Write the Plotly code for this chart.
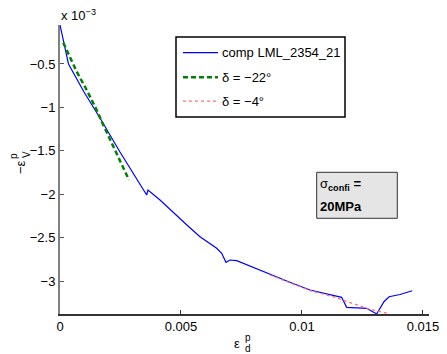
import plotly.graph_objects as go

# plastic deviatoric strain (x) and -volumetric strain in units of 1e-3 (y)
comp_x = [0.0, 0.000124, 0.000351, 0.000992, 0.001653, 0.002479, 0.003582, 0.003636,
          0.004132, 0.005289, 0.005785, 0.006475, 0.006682, 0.006859, 0.007025, 0.007302,
          0.008541, 0.009421, 0.010331, 0.010744, 0.01164, 0.011847, 0.012673, 0.013087,
          0.013388, 0.0136, 0.01405, 0.014558]
comp_y = [-0.051, -0.2235, -0.5, -0.8226, -1.122, -1.5138, -2.009, -1.9516,
          -2.0668, -2.366, -2.4896, -2.6233, -2.6809, -2.7846, -2.758, -2.766,
          -2.9113, -3.0058, -3.1037, -3.1302, -3.1878, -3.303, -3.3145, -3.380,
          -3.2385, -3.181, -3.155, -3.1118]

d22_x = [0.000136, 0.000343, 0.00069, 0.001103, 0.001516, 0.001789, 0.002343, 0.002686, 0.002851]
d22_y = [-0.2546, -0.3767, -0.5887, -0.7995, -1.03, -1.2028, -1.5288, -1.7212, -1.8364]

d4_x = [0.008678, 0.009421, 0.01033, 0.01128, 0.012107, 0.012809, 0.013566]
d4_y = [-2.9309, -3.0115, -3.1094, -3.1809, -3.2569, -3.3260, -3.3744]

x_ticks = [0, 0.005, 0.01, 0.015]
x_tick_labels = ["0", "0.005", "0.01", "0.015"]
y_ticks = [-3, -2.5, -2, -1.5, -1, -0.5]
y_tick_labels = ["\u22123", "\u22122.5", "\u22122", "\u22121.5", "\u22121", "\u22120.5"]

legend_names = ["comp LML_2354_21", "\u03b4 = \u221222\u00b0", "\u03b4 = \u22124\u00b0"]

BLUE = "#0000ff"
GREEN = "#008000"
RED = "#ff6f6f"
FONT = "Liberation Sans, Arial, sans-serif"

fig = go.Figure()
fig.add_trace(go.Scatter(x=comp_x, y=comp_y, mode="lines", name=legend_names[0],
                         line=dict(color=BLUE, width=1.2)))
fig.add_trace(go.Scatter(x=d22_x, y=d22_y, mode="lines", name=legend_names[1],
                         line=dict(color=GREEN, width=2.5, dash="5px,3px")))
fig.add_trace(go.Scatter(x=d4_x, y=d4_y, mode="lines", name=legend_names[2],
                         line=dict(color=RED, width=1.3, dash="dot")))

L, R, T, B = 60, 18, 25, 40
W, H = 447, 354
PW, PH = W - L - R, H - T - B


def px(xp):
    return (xp - L) / PW


def py(yp):
    return (T + PH - yp) / PH


shapes = []
annotations = []

# legend box
shapes.append(dict(type="rect", xref="paper", yref="paper", x0=px(176), x1=px(345),
                   y0=py(117), y1=py(37), fillcolor="white",
                   line=dict(color="black", width=1.5), layer="above"))
leg_styles = [dict(color=BLUE, width=1.2), dict(color=GREEN, width=2.5, dash="5px,3px"),
              dict(color=RED, width=1.3, dash="dot")]
leg_y = [52.7, 77.2, 101.2]
for name, st, yy in zip(legend_names, leg_styles, leg_y):
    shapes.append(dict(type="line", xref="paper", yref="paper", x0=px(183), x1=px(218),
                       y0=py(yy), y1=py(yy), line=st, layer="above"))
    annotations.append(dict(xref="paper", yref="paper", x=px(220), y=py(yy), text=name,
                            showarrow=False, xanchor="left", yanchor="middle",
                            font=dict(family=FONT, size=13, color="black")))

# sigma box
shapes.append(dict(type="rect", xref="paper", yref="paper", x0=px(316.7), x1=px(397.3),
                   y0=py(218.3), y1=py(172.3), fillcolor="#e5e5e5",
                   line=dict(color="#333333", width=1), layer="above"))
annotations.append(dict(xref="paper", yref="paper", x=px(318), y=py(184),
                        text="\u03c3<sub><b>confi</b></sub> <b>=</b>", showarrow=False,
                        xanchor="left", yanchor="middle",
                        font=dict(family=FONT, size=13, color="black")))
annotations.append(dict(xref="paper", yref="paper", x=px(318), y=py(206),
                        text="<b>20MPa</b>", showarrow=False,
                        xanchor="left", yanchor="middle",
                        font=dict(family=FONT, size=13, color="black")))

# exponent label
annotations.append(dict(xref="paper", yref="paper", x=px(59), y=py(15),
                        text="x 10<sup>\u22123</sup>", showarrow=False,
                        xanchor="left", yanchor="middle",
                        font=dict(family=FONT, size=13, color="black")))

# x label
annotations.append(dict(xref="paper", yref="paper", x=px(237), y=py(343), text="\u03b5",
                        showarrow=False, xanchor="center", yanchor="middle",
                        font=dict(family=FONT, size=13, color="black")))
annotations.append(dict(xref="paper", yref="paper", x=px(242.5), y=py(337), text="p",
                        showarrow=False, xanchor="left", yanchor="middle",
                        font=dict(family=FONT, size=10, color="black")))
annotations.append(dict(xref="paper", yref="paper", x=px(242.5), y=py(348), text="d",
                        showarrow=False, xanchor="left", yanchor="middle",
                        font=dict(family=FONT, size=10, color="black")))

# y label (rotated)
annotations.append(dict(xref="paper", yref="paper", x=px(20), y=py(167), text="\u2212\u03b5",
                        showarrow=False, xanchor="center", yanchor="middle", textangle=-90,
                        font=dict(family=FONT, size=13, color="black")))
annotations.append(dict(xref="paper", yref="paper", x=px(14), y=py(156), text="p",
                        showarrow=False, xanchor="center", yanchor="middle", textangle=-90,
                        font=dict(family=FONT, size=10, color="black")))
annotations.append(dict(xref="paper", yref="paper", x=px(26), y=py(155), text="V",
                        showarrow=False, xanchor="center", yanchor="middle", textangle=-90,
                        font=dict(family=FONT, size=10, color="black")))

fig.update_layout(
    width=W, height=H,
    margin=dict(l=L, r=R, t=T, b=B, pad=0),
    paper_bgcolor="white", plot_bgcolor="white",
    showlegend=False,
    font=dict(family=FONT, size=13, color="black"),
    shapes=shapes, annotations=annotations,
    xaxis=dict(range=[0, 0.01525], tickvals=x_ticks, ticktext=x_tick_labels,
               showgrid=False, zeroline=False, showline=True, linecolor="#333333",
               linewidth=1.5, ticks="inside", ticklen=4, tickcolor="#333333",
               tickfont=dict(family=FONT, size=13, color="black"), automargin=False),
    yaxis=dict(range=[-3.38, -0.051], tickvals=y_ticks, ticktext=y_tick_labels,
               showgrid=False, zeroline=False, showline=True, linecolor="#808080",
               linewidth=2, ticks="inside", ticklen=4, tickcolor="#555555",
               tickfont=dict(family=FONT, size=13, color="black"), automargin=False),
)

fig.write_html("out.html", config={"displayModeBar": False},
               post_script="document.body.style.margin='0px';")
